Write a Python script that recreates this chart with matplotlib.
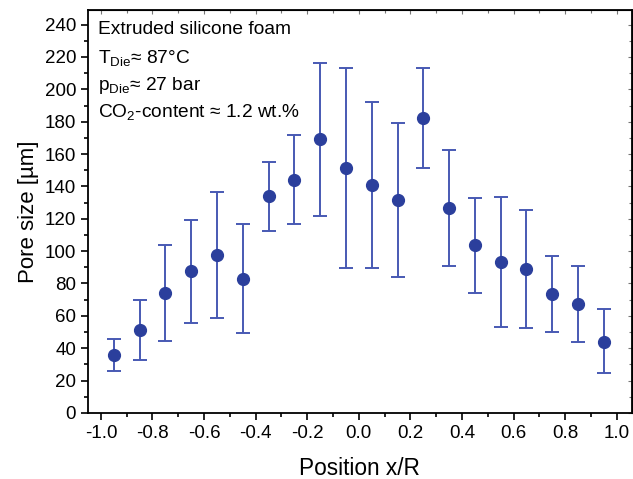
#!/usr/bin/env python3
import matplotlib

matplotlib.use("Agg")
import matplotlib.pyplot as plt
from matplotlib.ticker import MultipleLocator

plt.rcParams["font.family"] = ["Liberation Sans", "DejaVu Sans"]
plt.rcParams["mathtext.fontset"] = "custom"
plt.rcParams["mathtext.rm"] = "Liberation Sans"

# radial positions and mean pore size with error range
positions = [-0.95, -0.85, -0.75, -0.65, -0.55, -0.45, -0.35, -0.25, -0.15, -0.05,
             0.05, 0.15, 0.25, 0.35, 0.45, 0.55, 0.65, 0.75, 0.85, 0.95]
pore_size = [36, 51, 74, 87.5, 97.5, 83, 134, 144, 169, 151.5,
             141, 131.5, 182.5, 126.5, 103.5, 93, 89, 73.5, 67.5, 44]
err_upper = [45.5, 69.5, 104, 119, 136.5, 116.5, 155, 171.5, 216, 213,
             192, 179, 213, 162.5, 133, 133.5, 125.5, 97, 91, 64]
err_lower = [26, 32.5, 44.5, 55.5, 58.5, 49.5, 112.5, 116.5, 122, 89.5,
             89.5, 84, 151.5, 90.5, 74, 53, 52.5, 50, 44, 24.5]

x_ticks = [-1.0, -0.8, -0.6, -0.4, -0.2, 0.0, 0.2, 0.4, 0.6, 0.8, 1.0]
x_ticklabels = ["-1.0", "-0.8", "-0.6", "-0.4", "-0.2", "0.0", "0.2", "0.4", "0.6", "0.8", "1.0"]
y_ticks = list(range(0, 241, 20))

info_lines = [
    "Extruded silicone foam",
    r"T$_{\mathregular{Die}}$≈ 87°C",
    r"p$_{\mathregular{Die}}$≈ 27 bar",
    r"CO$_{\mathregular{2}}$-content ≈ 1.2 wt.%",
]

fig = plt.figure(figsize=(6.33, 4.79), dpi=100)
ax = fig.add_axes([0.139, 0.138, 0.859, 0.841])

yerr = [
    [p - lo for p, lo in zip(pore_size, err_lower)],
    [hi - p for p, hi in zip(pore_size, err_upper)],
]
ax.errorbar(positions, pore_size, yerr=yerr, fmt="none", ecolor="#4759b3",
            elinewidth=1.4, capsize=5, capthick=1.4, zorder=2)
ax.plot(positions, pore_size, "o", color="#2b3f9c", markersize=8.5, zorder=3)

ax.set_xlim(-1.05, 1.058)
ax.set_ylim(0, 249)
ax.set_xticks(x_ticks)
ax.set_xticklabels(x_ticklabels)
ax.set_yticks(y_ticks)
ax.xaxis.set_minor_locator(MultipleLocator(0.1))
ax.yaxis.set_minor_locator(MultipleLocator(10))

ax.tick_params(which="both", direction="out", labelsize=13.5, width=1.2,
               top=False, right=False)
ax.tick_params(which="major", length=5)
ax.tick_params(which="minor", length=3)
for side in ax.spines.values():
    side.set_linewidth(1.3)

# Origin-style inward ticks on the top and right axes
top = ax.secondary_xaxis("top")
top.set_xticks(x_ticks)
top.xaxis.set_minor_locator(MultipleLocator(0.1))
top.tick_params(which="both", direction="in", labeltop=False, width=0.8, color="#777777")
top.tick_params(which="major", length=3)
top.tick_params(which="minor", length=2)
right = ax.secondary_yaxis("right")
right.set_yticks(y_ticks)
right.yaxis.set_minor_locator(MultipleLocator(10))
right.tick_params(which="both", direction="in", labelright=False, width=0.8, color="#777777")
right.tick_params(which="major", length=3)
right.tick_params(which="minor", length=2)

ax.set_xlabel("Position x/R", fontsize=16.3, labelpad=11)
ax.set_ylabel("Pore size [µm]", fontsize=16, labelpad=4)

for i, line in enumerate(info_lines):
    ax.text(0.018, 0.972 - i * 0.067, line, transform=ax.transAxes,
            fontsize=13.8, va="top", ha="left")

fig.savefig("out.png", dpi=100)
